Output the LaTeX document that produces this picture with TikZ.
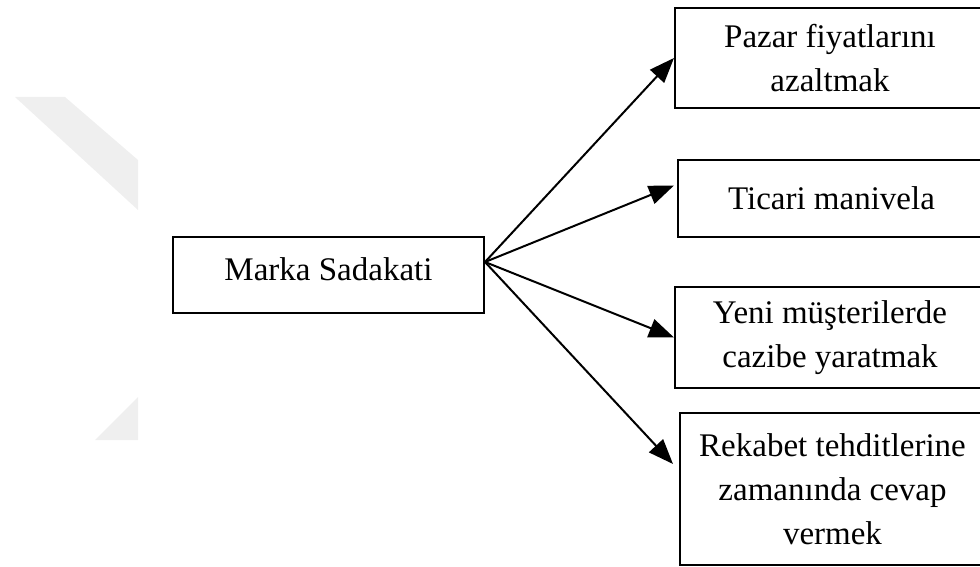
\documentclass[tikz,border=0pt]{standalone}
\usepackage{fontspec}
\setmainfont{Liberation Serif}
\usetikzlibrary{arrows.meta}
\definecolor{markgray}{HTML}{EFEFEF}
\begin{document}
\begin{tikzpicture}[x=1pt,y=-1pt,
  box/.style={draw, line width=2pt, rectangle, inner sep=0pt, align=center,
    font=\fontsize{33}{44}\selectfont},
  link/.style={line width=2pt, -{Triangle[length=25pt,width=19pt]}}]
\useasboundingbox (0,0) rectangle (980,567);
% faint chevron in the background
\fill[markgray] (15,97) -- (65,97) -- (138,160) -- (138,210) -- cycle;
\fill[markgray] (138,397) -- (138,440) -- (95,440) -- cycle;
% central box
\node[box, minimum width=311pt, minimum height=76pt, text depth=12pt] (m) at (328.5,275) {Marka Sadakati};
% outcome boxes (right sides run past the page edge)
\node[box, minimum width=310pt, minimum height=100pt] (b1) at (830,58) {Pazar fiyatlarını\\azaltmak};
\node[box, minimum width=307pt, minimum height=77pt] (b2) at (831.5,198.5) {Ticari manivela};
\node[box, minimum width=310pt, minimum height=101pt] (b3) at (830,337.5) {Yeni müşterilerde\\cazibe yaratmak};
\node[box, minimum width=305pt, minimum height=152pt] (b4) at (832.5,489) {Rekabet tehditlerine\\zamanında cevap\\vermek};
% arrows fanning out from one point
\coordinate (src) at ([yshift=13pt]m.east);
\draw[link] (src) -- (b1.west);
\draw[link] (src) -- ([xshift=-3pt,yshift=13pt]b2.west);
\draw[link] (src) -- (b3.west);
\draw[link] (src) -- ([xshift=-6pt,yshift=25pt]b4.west);
\end{tikzpicture}
\end{document}
